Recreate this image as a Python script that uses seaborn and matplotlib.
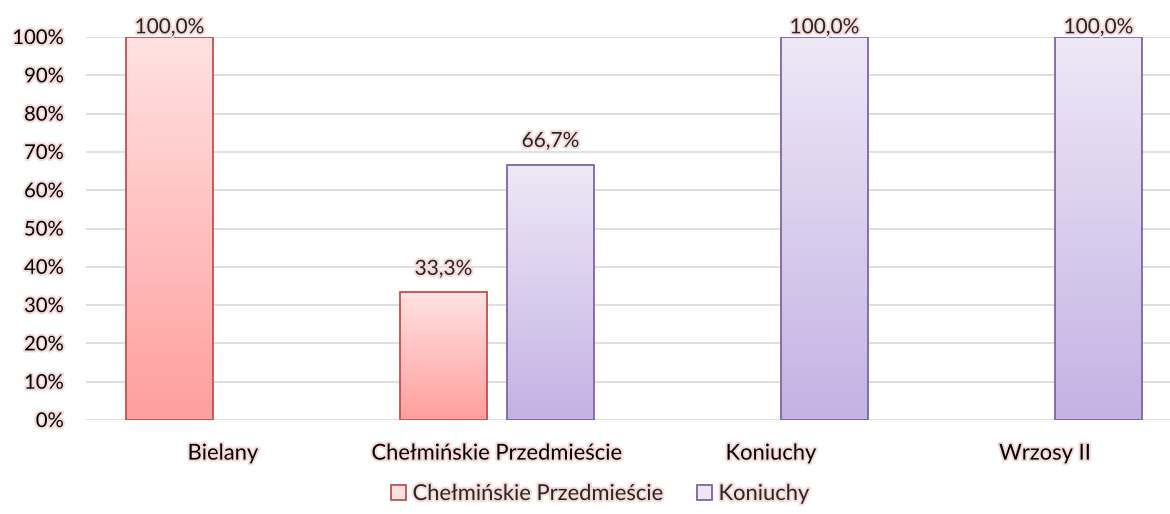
import numpy as np
import pandas as pd
import matplotlib
matplotlib.use('Agg')
import matplotlib.pyplot as plt
import matplotlib.patheffects as pe
from matplotlib.colors import LinearSegmentedColormap
from matplotlib.patches import Patch
import seaborn as sns

sns.set_style('white')
plt.rcParams['font.family'] = ['Lato', 'DejaVu Sans']

# data
categories = ['Bielany', 'Chełmińskie Przedmieście', 'Koniuchy', 'Wrzosy II']
series = ['Chełmińskie Przedmieście', 'Koniuchy']
red_vals = [100.0, 33.3, 0.0, 0.0]
purple_vals = [0.0, 66.7, 100.0, 100.0]

df = pd.DataFrame({
    'kat': categories * 2,
    'seria': [series[0]] * 4 + [series[1]] * 4,
    'val': red_vals + purple_vals,
})

edge = {series[0]: '#C0504D', series[1]: '#8064A2'}
grad = {series[0]: ('#FFE1E1', '#FF9E9E'), series[1]: ('#EEE8F6', '#C4B2E4')}

fig = plt.figure(figsize=(11.7, 5.14), dpi=100)
ax = fig.add_axes([86 / 1170, 1 - 420 / 514, 1 - 86 / 1170, (420 - 37) / 514])

sns.barplot(data=df, x='kat', y='val', hue='seria', hue_order=series,
            palette=[edge[s] for s in series], width=0.781, gap=0.187,
            ax=ax, legend=False, zorder=3)

ax.set_xlim(-0.5, -0.5 + 1084 / 274)
ax.set_ylim(0, 100)
ax.set_yticks(np.arange(0, 101, 10))
ax.set_yticklabels([f'{t}%' for t in range(0, 101, 10)])
ax.grid(axis='y', color='#D9D9D9', linewidth=1.2, zorder=0)
ax.set_axisbelow(True)
for s in ax.spines.values():
    s.set_visible(False)
ax.tick_params(axis='both', length=0, colors='black')
ax.tick_params(axis='y', pad=16, labelsize=14.6)
ax.tick_params(axis='x', pad=17, labelsize=15.8)
ax.set_xlabel('')
ax.set_ylabel('')

glow = [pe.withStroke(linewidth=3, foreground='#F7DADA')]
for lab in ax.get_xticklabels() + ax.get_yticklabels():
    lab.set_path_effects(glow)

# gradient fills + labels
vals = {series[0]: red_vals, series[1]: purple_vals}
for cont, s in zip(ax.containers, series):
    cmap = LinearSegmentedColormap.from_list(s, [grad[s][1], grad[s][0]])
    for bar, v in zip(cont, vals[s]):
        if v <= 0:
            bar.set_visible(False)
            continue
        bar.set_facecolor('none')
        bar.set_edgecolor(edge[s])
        bar.set_linewidth(1.3)
        x0, w, h = bar.get_x(), bar.get_width(), bar.get_height()
        img = ax.imshow(np.linspace(0, 1, 100).reshape(-1, 1), cmap=cmap,
                        extent=[x0, x0 + w, 0, h], origin='lower',
                        aspect='auto', zorder=2.5)
        img.set_clip_path(bar)
        off = 7 if v >= 100 else 17
        ax.annotate(f'{v:.1f}%'.replace('.', ','), (x0 + w / 2, h),
                    xytext=(0, off), textcoords='offset points',
                    ha='center', va='center', fontsize=15,
                    path_effects=glow, annotation_clip=False, zorder=5)

ax.set_xlim(-0.5, -0.5 + 1084 / 274)
ax.set_ylim(0, 100)

handles = [Patch(facecolor=grad[s][0], edgecolor=edge[s], linewidth=1.3, label=s) for s in series]
leg = fig.legend(handles=handles, loc='center', bbox_to_anchor=(600 / 1170, 1 - 494 / 514),
                 ncol=2, frameon=False, fontsize=15.8, handlelength=0.7,
                 handleheight=0.7, handletextpad=0.3, columnspacing=1.5)
for t in leg.get_texts():
    t.set_path_effects(glow)

fig.savefig('out.png', dpi=100)
